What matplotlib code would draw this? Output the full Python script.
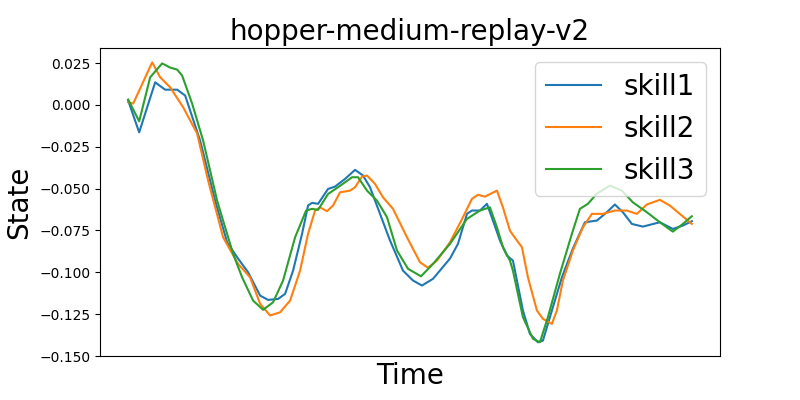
import matplotlib
matplotlib.use("Agg")
import matplotlib.pyplot as plt

t1 = [0, 11, 27, 37, 49, 57, 72, 87, 99, 109, 120, 132, 140, 150, 157, 165, 174, 180, 184, 190,
      200, 207, 217, 227, 235, 242, 252, 262, 275, 285, 294, 305, 322, 330, 339, 344, 352, 359,
      365, 372, 379, 385, 389, 395, 402, 410, 415, 424, 434, 445, 457, 469, 479, 487, 495, 504,
      515, 532, 545, 555, 564]
skill1 = [0.0026, -0.0164, 0.0135, 0.0091, 0.0091, 0.0056, -0.0213, -0.0572, -0.0821, -0.0910,
          -0.1000, -0.1139, -0.1165, -0.1159, -0.1129, -0.0990, -0.0770, -0.0601, -0.0585, -0.0591,
          -0.0502, -0.0488, -0.0442, -0.0388, -0.0422, -0.0492, -0.0651, -0.0810, -0.0990, -0.1049,
          -0.1079, -0.1039, -0.0918, -0.0830, -0.0651, -0.0631, -0.0631, -0.0591, -0.0691, -0.0810,
          -0.0900, -0.0930, -0.1049, -0.1228, -0.1368, -0.1418, -0.1408, -0.1228, -0.1030, -0.0858,
          -0.0701, -0.0691, -0.0641, -0.0595, -0.0641, -0.0711, -0.0727, -0.0701, -0.0741, -0.0721,
          -0.0695]

t2 = [0, 5, 24, 32, 42, 55, 69, 80, 95, 110, 122, 132, 142, 152, 162, 172, 180, 187, 192, 199,
      205, 212, 222, 227, 234, 239, 247, 255, 265, 279, 292, 300, 309, 322, 335, 344, 350, 357,
      369, 375, 382, 387, 394, 400, 409, 415, 424, 429, 435, 445, 455, 464, 475, 487, 499, 509,
      519, 532, 542, 552, 564]
skill2 = [0.0016, 0.0008, 0.0254, 0.0165, 0.0105, -0.0014, -0.0171, -0.0452, -0.0791, -0.0950,
          -0.1030, -0.1188, -0.1258, -0.1239, -0.1169, -0.0990, -0.0770, -0.0631, -0.0612, -0.0635,
          -0.0601, -0.0522, -0.0512, -0.0492, -0.0428, -0.0422, -0.0472, -0.0552, -0.0621, -0.0791,
          -0.0940, -0.0973, -0.0930, -0.0821, -0.0671, -0.0561, -0.0537, -0.0548, -0.0512, -0.0612,
          -0.0751, -0.0794, -0.0850, -0.1030, -0.1228, -0.1278, -0.1308, -0.1228, -0.1049, -0.0870,
          -0.0731, -0.0651, -0.0651, -0.0631, -0.0631, -0.0651, -0.0595, -0.0567, -0.0601, -0.0651,
          -0.0711]

t3 = [0, 11, 22, 34, 42, 49, 54, 64, 75, 89, 105, 114, 125, 135, 145, 155, 167, 178, 184, 190,
      200, 210, 224, 230, 239, 249, 259, 269, 280, 293, 305, 322, 339, 352, 362, 369, 375, 382,
      385, 395, 405, 412, 420, 432, 444, 452, 460, 469, 482, 494, 505, 519, 532, 545, 555, 564]
skill3 = [0.0032, -0.0098, 0.0165, 0.0248, 0.0223, 0.0211, 0.0175, 0.0008, -0.0213, -0.0572,
          -0.0890, -0.1030, -0.1169, -0.1224, -0.1179, -0.1049, -0.0791, -0.0631, -0.0621, -0.0627,
          -0.0532, -0.0492, -0.0432, -0.0432, -0.0512, -0.0572, -0.0671, -0.0870, -0.0979, -0.1024,
          -0.0950, -0.0830, -0.0681, -0.0631, -0.0612, -0.0731, -0.0850, -0.0930, -0.0990, -0.1268,
          -0.1397, -0.1418, -0.1268, -0.1009, -0.0770, -0.0621, -0.0591, -0.0530, -0.0482, -0.0512,
          -0.0582, -0.0641, -0.0701, -0.0757, -0.0711, -0.0665]

series = [("skill1", t1, skill1), ("skill2", t2, skill2), ("skill3", t3, skill3)]

fig, ax = plt.subplots(figsize=(8, 4), dpi=100)
for name, t, v in series:
    ax.plot(t, v, label=name, linewidth=1.5)

ax.set_ylim(-0.150, 0.034)
ax.set_xticks([])
ax.set_title("hopper-medium-replay-v2", fontsize=20)
ax.set_xlabel("Time", fontsize=20)
ax.set_ylabel("State", fontsize=20)
ax.legend(loc="upper right", fontsize=20)
fig.savefig("out.png", dpi=100)
